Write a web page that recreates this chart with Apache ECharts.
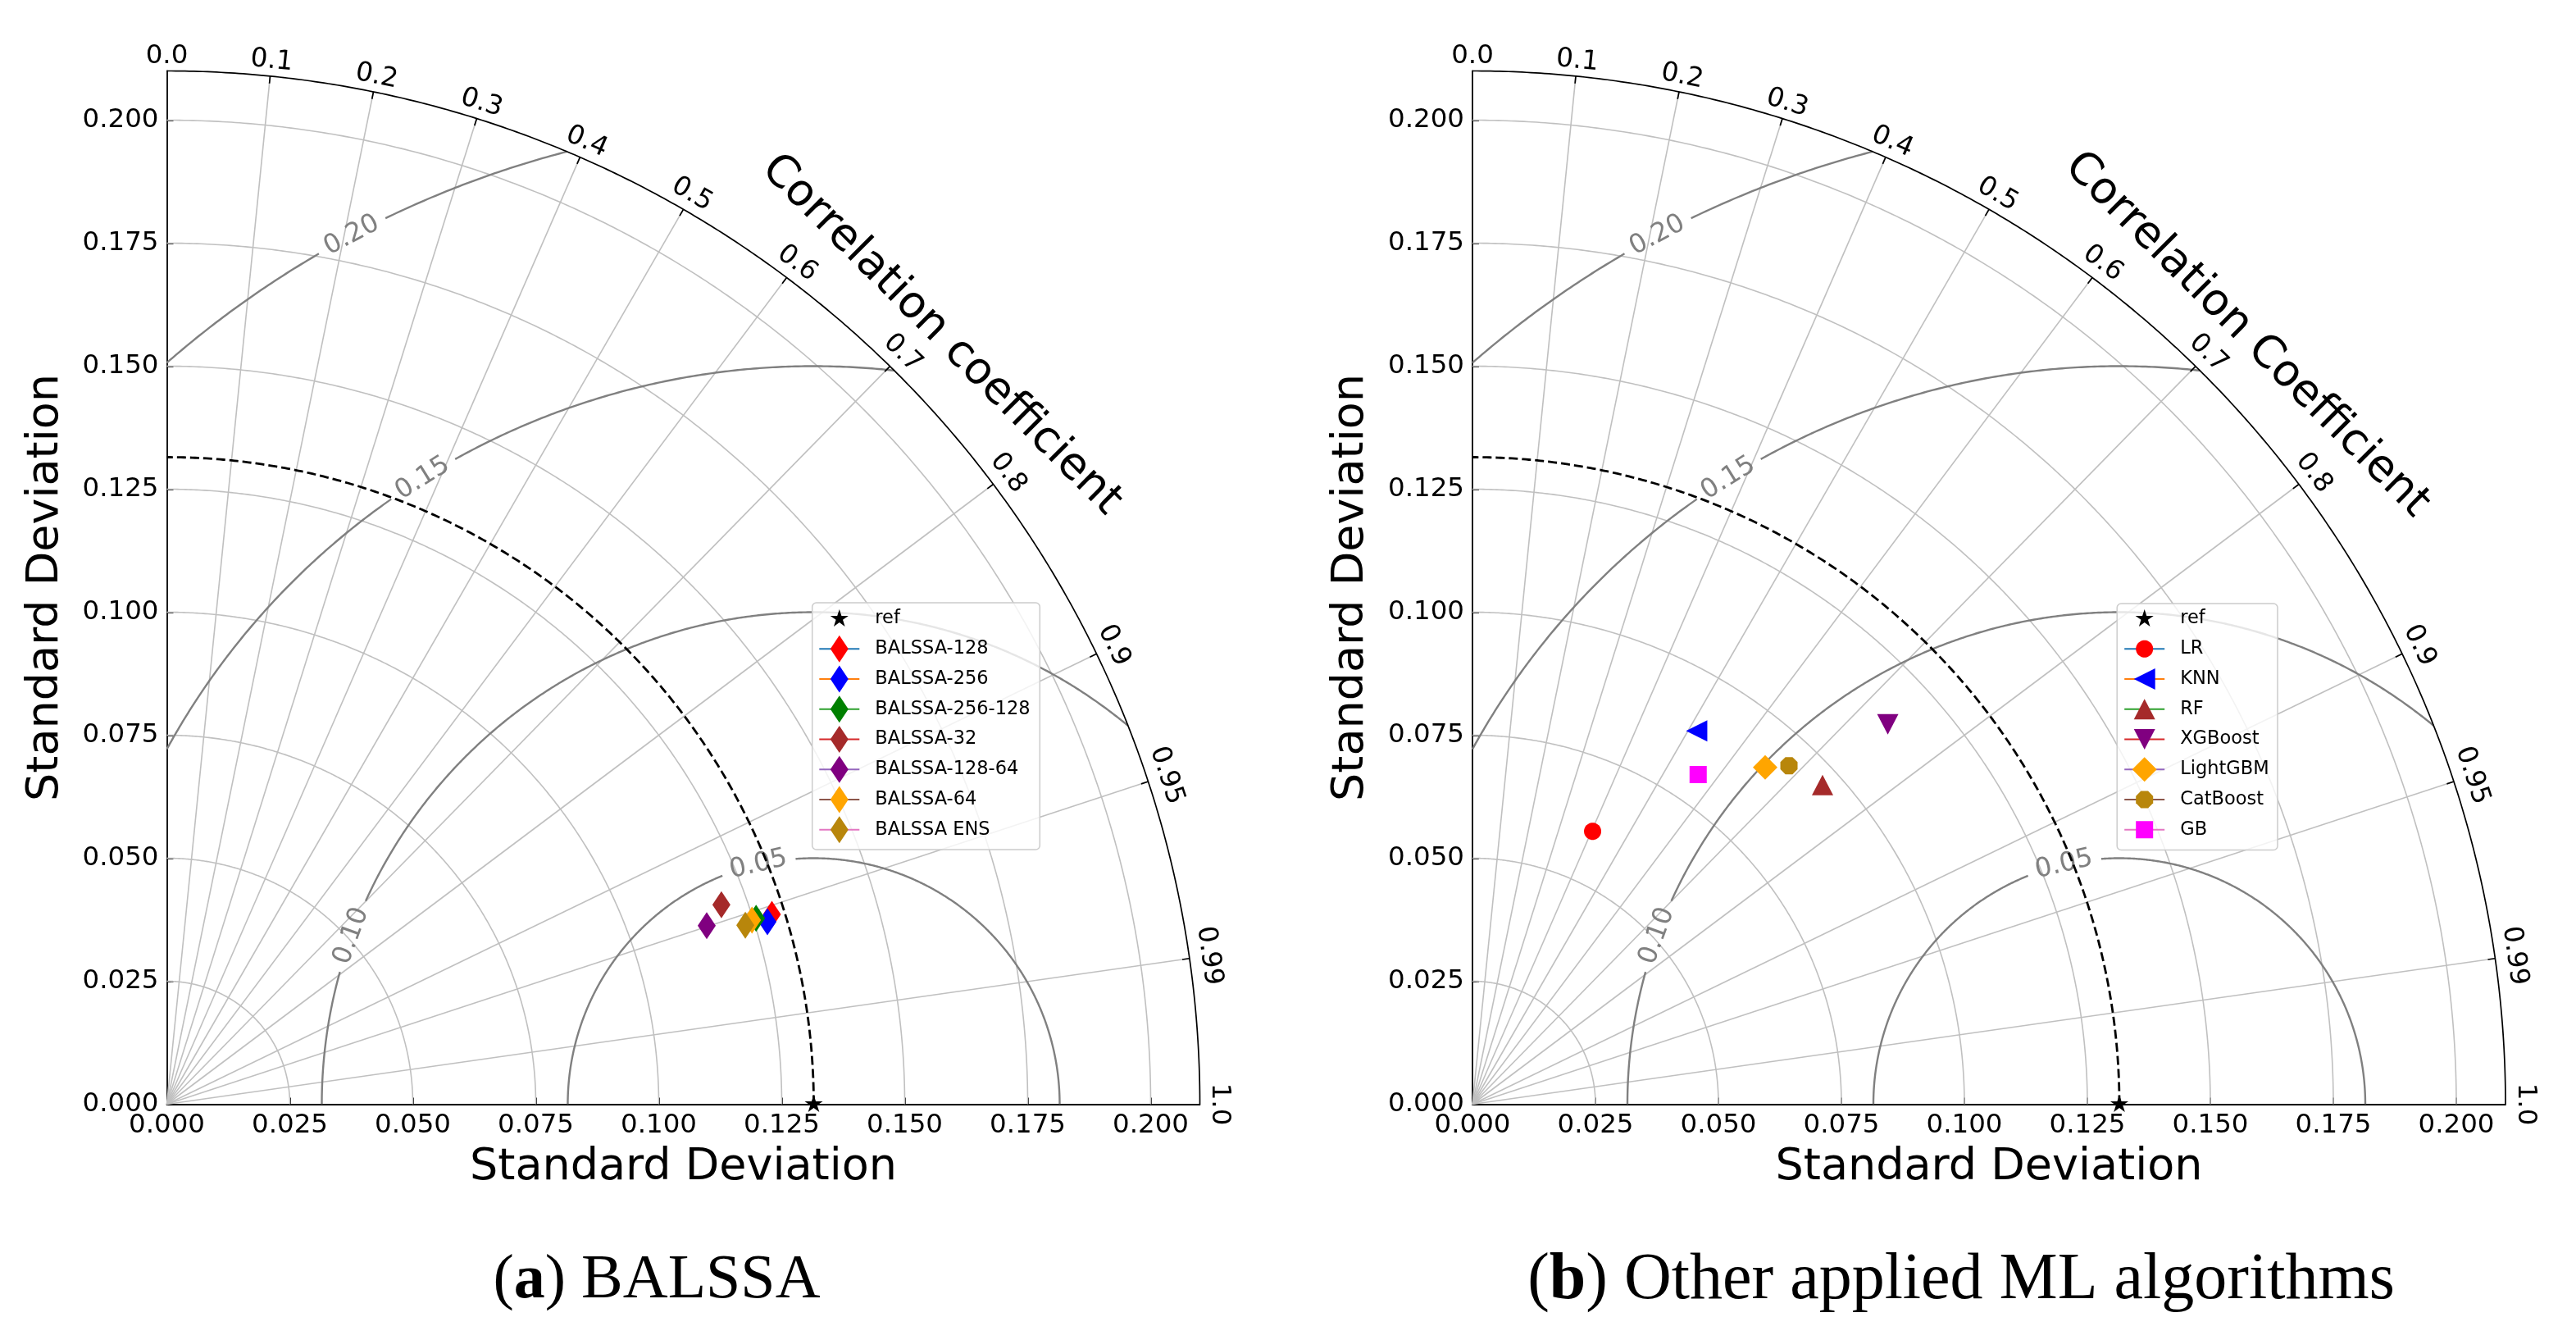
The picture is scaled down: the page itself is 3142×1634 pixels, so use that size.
<!DOCTYPE html>
<html>
<head>
<meta charset="utf-8">
<script src="https://cdn.jsdelivr.net/npm/echarts@6/dist/echarts.min.js"></script>
<style>html,body{margin:0;padding:0;background:#fff}#chart{width:3142px;height:1634px}</style>
</head>
<body>
<div id="chart"></div>
<script>
// ---------------- data ----------------
const refStd = 0.1315;
const stdMax = 0.21;
const stdTicks = [0, 0.025, 0.05, 0.075, 0.1, 0.125, 0.15, 0.175, 0.2];
const stdArcValues = [0.025, 0.05, 0.075, 0.1, 0.125, 0.15, 0.175, 0.2];
const corrTicks = [0.0, 0.1, 0.2, 0.3, 0.4, 0.5, 0.6, 0.7, 0.8, 0.9, 0.95, 0.99, 1.0];
const corrTickLabels = ['0.0', '0.1', '0.2', '0.3', '0.4', '0.5', '0.6', '0.7', '0.8', '0.9', '0.95', '0.99', '1.0'];
const rmsLevels = [0.05, 0.10, 0.15, 0.20];

const balssaModels = ['BALSSA-128', 'BALSSA-256', 'BALSSA-256-128', 'BALSSA-32', 'BALSSA-128-64', 'BALSSA-64', 'BALSSA ENS'];
const balssaStd  = [0.1289, 0.1276, 0.1256, 0.1198, 0.1156, 0.1247, 0.1231];
const balssaCorr = [0.9542, 0.9568, 0.9537, 0.9410, 0.9494, 0.9539, 0.9553];

const mlModels = ['LR', 'KNN', 'RF', 'XGBoost', 'LightGBM', 'CatBoost', 'GB'];
const mlStd  = [0.0606, 0.0885, 0.0963, 0.1144, 0.0907, 0.0942, 0.0812];
const mlCorr = [0.403, 0.515, 0.739, 0.738, 0.656, 0.683, 0.565];

const captionA = ['(', 'a', ') BALSSA'];
const captionB = ['(', 'b', ') Other applied ML algorithms'];
const corrTitles = ['Correlation coefficient', 'Correlation Coefficient'];
const axisTitle = 'Standard Deviation';

// ---------------- style / layout ----------------
const FONT = 'DejaVu Sans';
const PX = 6000;                       // px per std unit
const SIDE = stdMax * PX;              // 1260
const ORIGINS = [[203.5, 1346.5], [1796, 1346.5]];
const rmsLabelAngles = [103, 160, 122, 118];   // deg around ref point
const lineColors = ['#1f77b4', '#ff7f0e', '#2ca02c', '#d62728', '#9467bd', '#8c564b', '#e377c2'];
const balssaColors = ['#ff0000', '#0000ff', '#008000', '#a52a2a', '#800080', '#ffa500', '#b8860b'];
const mlColors = ['#ff0000', '#0000ff', '#a52a2a', '#800080', '#ffa500', '#b8860b', '#ff00ff'];
const GRID_STYLE = {stroke: '#c0c0c0', lineWidth: 1.6, fill: null};
const RMS_STYLE = {stroke: '#808080', lineWidth: 2.4, fill: null};

// marker shapes defined in a 34x34 box (pixel sizes), padded so bbox is the full box
const BOX = 34;
function poly(pts) {
  return 'path://M0,0L0,0M' + BOX + ',' + BOX + 'L' + BOX + ',' + BOX + 'M' +
    pts.map(p => p[0].toFixed(2) + ',' + p[1].toFixed(2)).join('L') + 'Z';
}
function regular(n, r, startDeg) {
  const pts = [];
  for (let k = 0; k < n; k++) {
    const a = (startDeg + 360 * k / n) * Math.PI / 180;
    pts.push([17 + r * Math.cos(a), 17 - r * Math.sin(a)]);
  }
  return pts;
}
function starPts(ro) {
  const ri = ro * 0.382, pts = [];
  for (let k = 0; k < 10; k++) {
    const a = (90 + 36 * k) * Math.PI / 180, r = k % 2 ? ri : ro;
    pts.push([17 + r * Math.cos(a), 17 - r * Math.sin(a)]);
  }
  return pts;
}
const SHAPES = {
  star: poly(starPts(11.6)),
  thinDiamond: poly([[17, 0.5], [28, 17], [17, 33.5], [6, 17]]),
  circle: poly(regular(48, 10.5, 0)),
  triLeft: poly([[4, 17], [30, 4], [30, 30]]),
  triUp: poly([[17, 4.5], [30, 29.5], [4, 29.5]]),
  triDown: poly([[4, 4.5], [30, 4.5], [17, 29.5]]),
  diamond: poly([[17, 2], [32, 17], [17, 32], [2, 17]]),
  octagon: poly(regular(8, 10.5 / Math.cos(Math.PI / 8), 22.5)),
  square: poly([[6.5, 6.5], [27.5, 6.5], [27.5, 27.5], [6.5, 27.5]])
};
const mlShapes = [SHAPES.circle, SHAPES.triLeft, SHAPES.triUp, SHAPES.triDown, SHAPES.diamond, SHAPES.octagon, SHAPES.square];

function toXY(s, c) { return [s * c, s * Math.sqrt(Math.max(0, 1 - c * c))]; }

function arcPts(api, cx, r, a0, a1) {
  const n = Math.max(2, Math.ceil(Math.abs(a1 - a0) / (Math.PI / 720)));
  const pts = [];
  for (let k = 0; k <= n; k++) {
    const a = a0 + (a1 - a0) * k / n;
    pts.push(api.coord([cx + r * Math.cos(a), r * Math.sin(a)]));
  }
  return pts;
}

function panelSeries(idx) {
  const ax = {xAxisIndex: idx, yAxisIndex: idx, silent: true};
  const out = [];
  // std arcs
  out.push(Object.assign({type: 'custom', z: 1, data: stdArcValues.map(v => [v, 0]),
    renderItem(p, api) {
      return {type: 'polyline', shape: {points: arcPts(api, 0, api.value(0), 0, Math.PI / 2)}, style: GRID_STYLE};
    }}, ax));
  // correlation lines
  out.push(Object.assign({type: 'custom', z: 1, data: corrTicks.filter(c => c > 0 && c < 1).map(c => [c, 0]),
    renderItem(p, api) {
      const p0 = api.coord([0, 0]), p1 = api.coord(toXY(stdMax, api.value(0)));
      return {type: 'line', shape: {x1: p0[0], y1: p0[1], x2: p1[0], y2: p1[1]}, style: GRID_STYLE};
    }}, ax));
  // RMS contours with inline labels
  out.push(Object.assign({type: 'custom', z: 2, data: rmsLevels.map(v => [v, 0]),
    renderItem(p, api) {
      const r = api.value(0), c = refStd, i = p.dataIndex;
      const lo = (stdMax * stdMax - c * c - r * r) / (2 * c * r);
      const phiMin = lo >= 1 ? 0 : Math.acos(Math.max(-1, lo));
      const phiMax = Math.acos(Math.max(-1, -c / r));
      const pxR = api.size([r, 0])[0];
      const half = 46 / pxR;
      const phiL = rmsLabelAngles[i] * Math.PI / 180;
      const pos = api.coord([c + r * Math.cos(phiL), r * Math.sin(phiL)]);
      return {type: 'group', children: [
        {type: 'polyline', shape: {points: arcPts(api, c, r, phiMin, phiL - half)}, style: RMS_STYLE},
        {type: 'polyline', shape: {points: arcPts(api, c, r, phiL + half, phiMax)}, style: RMS_STYLE},
        {type: 'text', x: pos[0], y: pos[1], rotation: phiL - Math.PI / 2,
          style: {text: r.toFixed(2), fill: '#808080', fontSize: 32, fontFamily: FONT, align: 'center', verticalAlign: 'middle'}}
      ]};
    }}, ax));
  // outer arc
  out.push(Object.assign({type: 'custom', z: 2, data: [[stdMax, 0]],
    renderItem(p, api) {
      return {type: 'polyline', shape: {points: arcPts(api, 0, api.value(0), 0, Math.PI / 2)},
        style: {stroke: '#000', lineWidth: 1.7, fill: null}};
    }}, ax));
  // reference std dashed arc
  out.push(Object.assign({type: 'custom', z: 3, data: [[refStd, 0]],
    renderItem(p, api) {
      return {type: 'polyline', shape: {points: arcPts(api, 0, api.value(0), 0, Math.PI / 2)},
        style: {stroke: '#000', lineWidth: 2.8, fill: null, lineDash: [11, 5]}};
    }}, ax));
  // correlation tick labels and ticks
  out.push(Object.assign({type: 'custom', z: 3, data: corrTicks.map(c => [c, 0]),
    renderItem(p, api) {
      const c = api.value(0), th = Math.acos(c);
      const pt = api.coord(toXY(stdMax, c));
      const ux = Math.cos(th), uy = -Math.sin(th);
      const d = 18 + 6 * c;
      const ch = [{type: 'text', x: pt[0] + d * ux, y: pt[1] + d * uy, rotation: th - Math.PI / 2,
        style: {text: corrTickLabels[p.dataIndex], fill: '#000', fontSize: 32.5, fontFamily: FONT, align: 'center', verticalAlign: 'middle'}}];
      if (c > 0 && c < 1) ch.push({type: 'line', shape: {x1: pt[0], y1: pt[1], x2: pt[0] - 9 * ux, y2: pt[1] - 9 * uy},
        style: {stroke: '#000', lineWidth: 1.7}});
      return {type: 'group', children: ch};
    }}, ax));
  // reference point
  out.push({type: 'line', name: 'ref', xAxisIndex: idx, yAxisIndex: idx, z: 6,
    data: [[refStd, 0]], symbol: SHAPES.star, symbolSize: BOX, showSymbol: true,
    itemStyle: {color: '#000'}, lineStyle: {width: 0, opacity: 0}, clip: false});
  return out;
}

function modelSeries(idx, names, stds, corrs, colors, shapes) {
  return names.map((n, i) => ({
    type: 'line', name: n, xAxisIndex: idx, yAxisIndex: idx, z: 5,
    data: [toXY(stds[i], corrs[i])],
    symbol: shapes[i], symbolSize: BOX, showSymbol: true,
    itemStyle: {color: colors[i]},
    lineStyle: {color: lineColors[i], width: 2}
  }));
}

function axisCfg(idx, isX) {
  return {
    type: 'value', gridIndex: idx, min: 0, max: stdMax, interval: 0.025,
    axisLine: {show: true, onZero: false, lineStyle: {color: '#000', width: 1.8}},
    axisTick: {show: true, inside: true, length: 8, customValues: stdTicks, lineStyle: {color: '#000', width: 1.8}},
    axisLabel: {show: true, customValues: stdTicks, formatter: v => v.toFixed(3), fontSize: 32.5, color: '#000', margin: 10, fontFamily: FONT},
    splitLine: {show: false},
    name: axisTitle, nameLocation: 'middle', nameGap: isX ? 50 : 121, nameMoveOverlap: false,
    nameTextStyle: {fontSize: 54, color: '#000', fontFamily: FONT}
  };
}

// legend: symbol box = 0.8 * itemHeight = 34; row pitch = 34 + itemGap
function legendCfg(names, left) {
  return {
    data: ['ref'].concat(names), left: left, top: 754.5 - BOX / 2, orient: 'vertical',
    itemWidth: 49, itemHeight: BOX / 0.8, itemGap: 36.75 - BOX, padding: 0, selectedMode: false,
    textStyle: {fontSize: 22.5, fontFamily: FONT, color: '#000', padding: [0, 0, 0, 14]}
  };
}

const graphics = [];
[[990.7, 735, 277.6, 301], [2582.2, 736, 195.8, 300.5]].forEach(b => graphics.push({
  type: 'rect', z: 3, shape: {x: b[0], y: b[1], width: b[2], height: b[3], r: 5},
  style: {fill: 'rgba(255,255,255,0.8)', stroke: '#cccccc', lineWidth: 1.5}
}));
ORIGINS.forEach((o, i) => {
  const rr = SIDE + 71, a = 44.8 * Math.PI / 180;
  graphics.push({type: 'text', z: 3, x: o[0] + rr * Math.cos(a), y: o[1] - rr * Math.sin(a), rotation: -Math.PI / 4,
    style: {text: corrTitles[i], fontSize: 54, fontFamily: FONT, fill: '#000', align: 'center', verticalAlign: 'middle'}});
});
[[captionA, 801, 76], [captionB, 2392, 80]].forEach(cp => graphics.push({
  type: 'text', z: 3, x: cp[1], y: 1562,
  style: {text: '{n|' + cp[0][0] + '}{b|' + cp[0][1] + '}{n|' + cp[0][2] + '}', align: 'center', verticalAlign: 'middle', fill: '#000',
    rich: {n: {fontFamily: 'Liberation Serif', fontSize: cp[2], fill: '#000'},
           b: {fontFamily: 'Liberation Serif', fontSize: cp[2], fontWeight: 'bold', fill: '#000'}}}
}));

const option = {
  animation: false,
  backgroundColor: '#fff',
  textStyle: {fontFamily: FONT},
  grid: ORIGINS.map(o => ({left: o[0], top: o[1] - SIDE, width: SIDE, height: SIDE, containLabel: false, outerBoundsMode: 'none'})),
  xAxis: [axisCfg(0, true), axisCfg(1, true)],
  yAxis: [axisCfg(0, false), axisCfg(1, false)],
  legend: [legendCfg(balssaModels, 998.3), legendCfg(mlModels, 2590.2)],
  graphic: graphics,
  series: [].concat(
    panelSeries(0),
    modelSeries(0, balssaModels, balssaStd, balssaCorr, balssaColors, balssaModels.map(() => SHAPES.thinDiamond)),
    panelSeries(1),
    modelSeries(1, mlModels, mlStd, mlCorr, mlColors, mlShapes)
  )
};

const chart = echarts.init(document.getElementById('chart'), null, {renderer: 'canvas'});
chart.setOption(option);
</script>
</body>
</html>
